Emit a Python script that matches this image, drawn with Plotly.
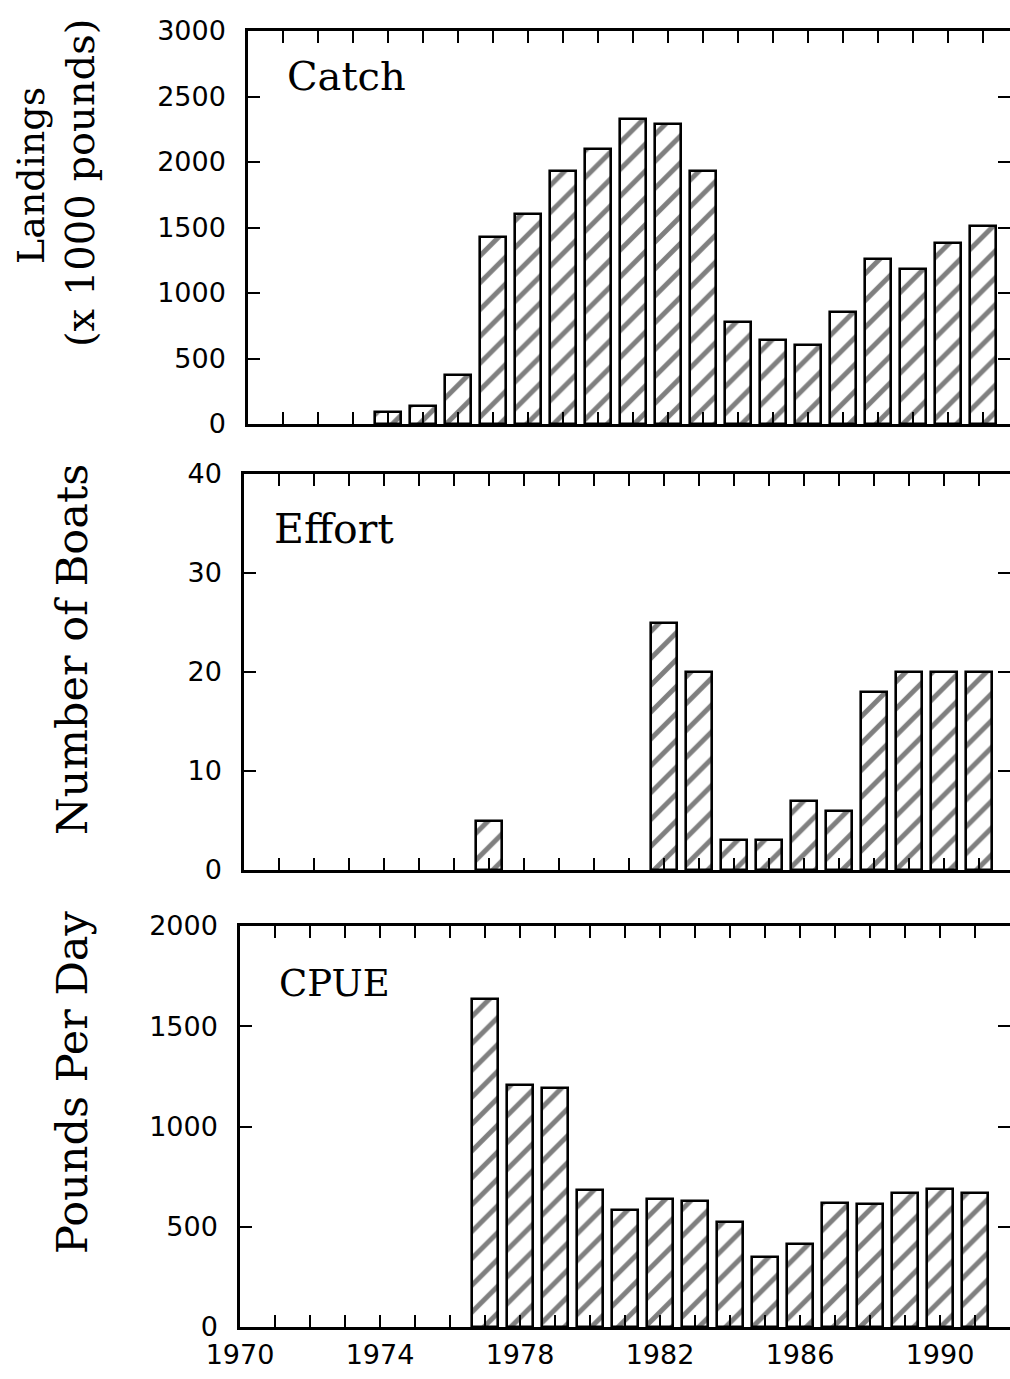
import plotly.graph_objects as go

# Fishery time series, 1970-1991
years = list(range(1970, 1992))

# Catch: landings (x 1000 pounds); None where no landings were recorded
catch = [None, None, None, None, 90, 140, 375, 1425, 1600, 1935, 2100, 2330,
         2290, 1930, 780, 645, 605, 855, 1260, 1180, 1385, 1510]

# Effort: number of boats
effort = [None, None, None, None, None, None, None, 5, None, None, None, None,
          25, 20, 3, 3, 7, 6, 18, 20, 20, 20]

# CPUE: pounds per day
cpue = [None, None, None, None, None, None, None, 1635, 1205, 1190, 685, 585,
        640, 630, 525, 350, 415, 620, 615, 670, 687, 670]

year_labels = [str(y) if (y - 1970) % 4 == 0 else "" for y in years]

W, H = 1010, 1379
PX_PER_YEAR = 35.0

# panel geometry (pixels): left edge of each axis, top / bottom of plot area
panels = [
    dict(left=248, top=31, bottom=424, yrange=[0, 3000], dtick=500,
         label="Catch", label_xy=(285, 76), label_size=40, values=catch),
    dict(left=244, top=474, bottom=870, yrange=[0, 40], dtick=10,
         label="Effort", label_xy=(272, 529), label_size=41, values=effort),
    dict(left=240, top=926, bottom=1327, yrange=[0, 2000], dtick=500,
         label="CPUE", label_xy=(277, 984), label_size=37, values=cpue),
]

SERIF = "DejaVu Serif"
SANS = "DejaVu Sans"

fig = go.Figure()
annotations = []
layout = {}

for i, p in enumerate(panels, start=1):
    xname = "x" if i == 1 else f"x{i}"
    yname = "y" if i == 1 else f"y{i}"
    xkey = "xaxis" if i == 1 else f"xaxis{i}"
    ykey = "yaxis" if i == 1 else f"yaxis{i}"

    fig.add_trace(go.Bar(
        x=years, y=p["values"], xaxis=xname, yaxis=yname, width=0.73,
        marker=dict(
            color="white",
            line=dict(color="black", width=2.6),
            pattern=dict(shape="/", fgcolor="black", bgcolor="white",
                         size=19, solidity=0.26, fillmode="overlay"),
        ),
        hoverinfo="x+y",
    ))

    xmax = 1970 + (W - p["left"]) / PX_PER_YEAR
    layout[xkey] = dict(
        domain=[p["left"] / W, 1.0], range=[1970, xmax], anchor=yname,
        automargin=False,
        tickmode="array", tickvals=years,
        ticktext=year_labels if i == 3 else [""] * len(years),
        showticklabels=(i == 3),
        ticks="inside", ticklen=12, tickwidth=2.2, tickcolor="black",
        showline=True, linewidth=2.5, linecolor="black", mirror="ticks",
        showgrid=False, zeroline=False,
        tickfont=dict(family=SANS, size=27, color="black"),
        ticklabelstandoff=2,
    )
    layout[ykey] = dict(
        domain=[1 - p["bottom"] / H, 1 - p["top"] / H], range=p["yrange"],
        anchor=xname, automargin=False, tick0=0, dtick=p["dtick"],
        ticks="inside", ticklen=12, tickwidth=2.2, tickcolor="black",
        showline=True, linewidth=2.5, linecolor="black", mirror="ticks",
        showgrid=False, zeroline=False,
        tickfont=dict(family=SANS, size=27, color="black"),
        ticklabelstandoff=14,
    )

    # panel label inside the plot area
    lx, ly = p["label_xy"]
    annotations.append(dict(
        text=p["label"], xref="paper", yref="paper", x=lx / W, y=1 - ly / H,
        xanchor="left", yanchor="middle", showarrow=False,
        font=dict(family=SERIF, size=p["label_size"], color="black"),
    ))

# rotated y-axis titles
annotations += [
    dict(text="Landings", xref="paper", yref="paper", x=31 / W, y=1 - 176 / H,
         textangle=-90, xanchor="center", yanchor="middle", showarrow=False,
         font=dict(family=SERIF, size=38, color="black")),
    dict(text="(x 1000 pounds)", xref="paper", yref="paper", x=80 / W, y=1 - 183 / H,
         textangle=-90, xanchor="center", yanchor="middle", showarrow=False,
         font=dict(family=SERIF, size=40, color="black")),
    dict(text="Number of Boats", xref="paper", yref="paper", x=72 / W, y=1 - 650 / H,
         textangle=-90, xanchor="center", yanchor="middle", showarrow=False,
         font=dict(family=SERIF, size=43, color="black")),
    dict(text="Pounds Per Day", xref="paper", yref="paper", x=72 / W, y=1 - 1082 / H,
         textangle=-90, xanchor="center", yanchor="middle", showarrow=False,
         font=dict(family=SERIF, size=43, color="black")),
]

fig.update_layout(
    width=W, height=H,
    margin=dict(l=0, r=0, t=0, b=0, autoexpand=False),
    paper_bgcolor="white", plot_bgcolor="white",
    showlegend=False, bargap=0,
    annotations=annotations,
    **layout,
)

fig.write_html("out.html")
